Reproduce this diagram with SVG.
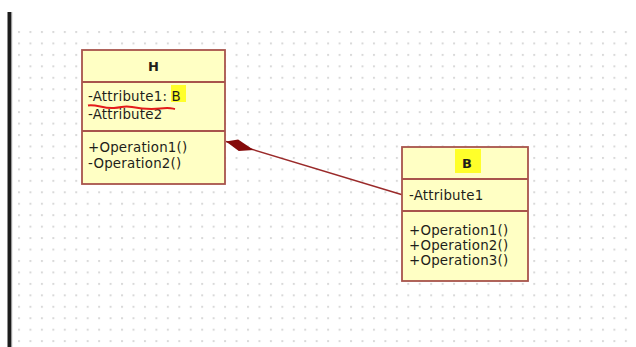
<svg xmlns="http://www.w3.org/2000/svg" width="636" height="347" viewBox="0 0 636 347">
  <style>
    .box { fill: #ffffc4; stroke: #a8544c; stroke-width: 1.8; }
    .sep { stroke: #a8544c; stroke-width: 1.8; }
    .t { font-family: "DejaVu Sans", "Liberation Sans", sans-serif; font-size: 13.4px; letter-spacing: 0.2px; fill: #1e1e1a; }
    .hd { font-family: "DejaVu Sans", "Liberation Sans", sans-serif; font-size: 13px; font-weight: bold; fill: #1e1e1a; text-anchor: middle; }
    .mark { fill: #ffff2a; }
    .assoc { stroke: #9a2a2a; stroke-width: 1.5; fill: none; }
  </style>
  <defs>
    <pattern id="grid" patternUnits="userSpaceOnUse" x="18" y="31" width="11.45" height="11.45">
      <rect x="0" y="0" width="2" height="2" fill="#d9d9d9"/>
    </pattern>
    <marker id="composite" viewBox="0 0 29 14" refX="0" refY="7" markerWidth="29" markerHeight="14" markerUnits="userSpaceOnUse" orient="auto">
      <path d="M0,7 L11,1.5 L29,7 L15,12.5 Z" fill="#850b0b"/>
    </marker>
  </defs>

  <!-- canvas -->
  <rect x="0" y="0" width="636" height="347" fill="#ffffff"/>
  <rect x="14" y="27" width="620" height="320" fill="url(#grid)"/>
  <rect x="7.5" y="12" width="3.5" height="335" fill="#1c1c1c"/>
  <rect x="11" y="12" width="1.2" height="335" fill="#9a9a9a"/>

  <!-- connectors -->
  <g id="connectors">
    <path class="assoc" d="M226,141.5 L403,195" marker-start="url(#composite)"/>
  </g>

  <!-- class H -->
  <g id="class-H">
    <rect class="box" x="82" y="50" width="143" height="134"/>
    <line class="sep" x1="82" y1="82" x2="225" y2="82"/>
    <line class="sep" x1="82" y1="131" x2="225" y2="131"/>
    <text class="hd" x="153.5" y="71">H</text>
    <rect class="mark" x="171" y="85" width="15" height="17"/>
    <text class="t" x="88" y="101">-Attribute1: B</text>
    <text class="t" x="88" y="119">-Attribute2</text>
    <path d="M88,105.5 C96,104 104,109 114,108 S124,105.5 132,107 S150,109.5 160,108.5 S170,108 175,109" fill="none" stroke="#e41b1b" stroke-width="2"/>
    <text class="t" x="88" y="152">+Operation1()</text>
    <text class="t" x="88" y="168">-Operation2()</text>
  </g>

  <!-- class B -->
  <g id="class-B">
    <rect class="box" x="402" y="147" width="126" height="134"/>
    <line class="sep" x1="402" y1="179" x2="528" y2="179"/>
    <line class="sep" x1="402" y1="211" x2="528" y2="211"/>
    <rect class="mark" x="455" y="149" width="26" height="24"/>
    <text class="hd" x="467" y="168">B</text>
    <text class="t" x="409" y="200">-Attribute1</text>
    <text class="t" x="409" y="235">+Operation1()</text>
    <text class="t" x="409" y="250">+Operation2()</text>
    <text class="t" x="409" y="265">+Operation3()</text>
  </g>
</svg>
